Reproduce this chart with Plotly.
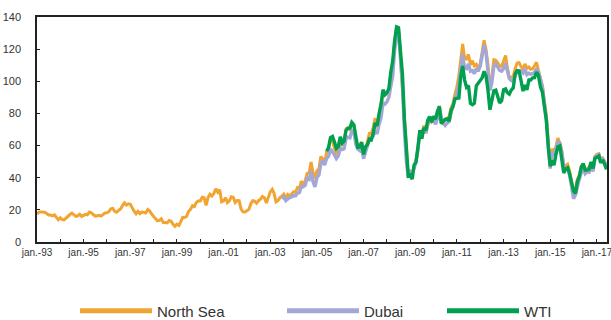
import pandas as pd
import plotly.graph_objects as go

# Monthly crude oil prices, USD per barrel
north_sea_start = "1993-01-01"
north_sea = [
    17.4, 18.6, 18.7, 18.6, 18.5, 17.7, 16.8, 16.8, 16.3, 16.9, 15.4, 13.9,   # 1993
    15.1, 14.0, 13.8, 15.0, 16.4, 17.1, 18.0, 16.9, 16.0, 16.3, 17.2, 15.9,   # 1994
    16.6, 17.2, 16.9, 18.6, 18.2, 17.4, 16.1, 16.3, 16.6, 16.1, 17.1, 18.0,   # 1995
    18.1, 18.9, 20.6, 20.9, 19.1, 18.5, 19.6, 20.5, 22.6, 24.3, 23.0, 23.8,   # 1996
    23.5, 20.8, 19.2, 17.6, 19.1, 17.6, 18.6, 18.5, 18.1, 20.2, 19.2, 17.4,   # 1997
    15.5, 14.4, 13.2, 13.4, 14.4, 12.1, 12.1, 11.9, 13.4, 12.9, 11.0, 9.8,    # 1998
    11.1, 10.3, 12.5, 15.3, 15.2, 15.9, 19.0, 20.3, 22.6, 22.1, 24.6, 25.5,   # 1999
    25.5, 27.8, 27.5, 22.8, 27.6, 29.8, 28.6, 30.2, 33.1, 30.9, 32.5, 25.0,   # 2000
    25.6, 27.5, 24.5, 25.6, 28.1, 27.8, 24.6, 25.8, 25.7, 20.5, 18.8, 18.7,   # 2001
    19.4, 20.3, 23.7, 25.7, 25.4, 24.1, 25.7, 26.6, 28.3, 27.5, 24.3, 28.0,   # 2002
    31.2, 32.8, 30.3, 25.0, 25.8, 27.6, 28.4, 29.8, 27.1, 29.6, 28.8, 29.8,   # 2003
    31.2, 30.9, 33.8, 33.4, 37.9, 35.2, 38.2, 42.7, 43.2, 49.8, 43.1, 39.6,   # 2004
    44.5, 45.5, 53.1, 51.9, 49.0, 56.0, 57.6, 64.1, 62.9, 58.5, 55.5, 56.8,   # 2005
    62.9, 60.0, 62.3, 70.4, 70.9, 69.8, 74.4, 73.0, 63.8, 59.0, 59.5, 62.3,   # 2006
    54.3, 57.8, 62.1, 67.5, 67.5, 71.3, 77.2, 70.8, 77.1, 82.8, 92.5, 91.5,   # 2007
    92.0, 94.8, 103.3, 110.2, 123.9, 133.1, 133.0, 113.2, 97.2, 71.6, 52.5, 40.0,  # 2008
    43.9, 43.1, 46.8, 50.9, 57.9, 68.6, 64.9, 72.5, 67.7, 73.2, 77.0, 74.7,   # 2009
    76.2, 73.8, 78.8, 84.8, 75.9, 74.8, 75.6, 77.1, 78.2, 83.5, 86.1, 92.0,   # 2010
    96.5, 103.7, 114.6, 123.3, 114.5, 113.9, 116.7, 110.2, 112.8, 109.6, 110.5, 107.9,  # 2011
    110.7, 119.3, 125.5, 119.8, 110.3, 95.2, 102.6, 113.4, 113.0, 111.5, 109.5, 109.2,  # 2012
    112.3, 116.1, 108.5, 102.3, 102.6, 102.9, 107.9, 111.3, 111.6, 109.1, 107.8, 110.8,  # 2013
    108.1, 108.9, 107.5, 107.8, 109.7, 111.8, 106.8, 101.6, 97.1, 87.4, 79.4, 62.3,  # 2014
    47.8, 58.1, 55.9, 59.5, 64.6, 61.7, 56.5, 46.5, 47.6, 48.4, 44.3, 38.0,   # 2015
    30.8, 33.2, 39.1, 41.6, 46.7, 48.3, 44.9, 45.8, 46.6, 49.5, 44.7, 53.3,   # 2016
    54.6, 55.0, 51.6, 52.3, 50.3, 46.4,                                       # 2017
]

dubai_start = "2003-07-01"
dubai = [
    27.1, 28.1, 25.8, 27.1, 27.7, 28.0,                                       # 2003
    28.8, 28.8, 30.5, 30.8, 34.6, 34.4, 35.3, 39.6, 38.9, 44.2, 37.5, 34.3,   # 2004
    40.2, 41.7, 48.4, 50.7, 47.9, 52.0, 53.3, 57.9, 56.4, 54.3, 51.9, 53.6,   # 2005
    58.5, 57.5, 58.0, 64.4, 65.2, 64.8, 69.1, 68.9, 60.9, 57.9, 56.9, 58.8,   # 2006
    51.9, 55.6, 59.0, 63.9, 64.6, 66.0, 69.5, 67.2, 73.3, 77.2, 86.5, 85.8,   # 2007
    87.2, 90.0, 96.7, 103.5, 119.3, 127.8, 131.2, 113.2, 96.7, 69.4, 49.8, 40.5,  # 2008
    43.9, 43.1, 45.6, 50.1, 57.6, 69.4, 65.2, 71.4, 67.7, 73.2, 77.3, 75.5,   # 2009
    76.5, 73.2, 76.7, 84.2, 77.6, 73.8, 72.5, 73.9, 74.9, 80.4, 84.2, 89.1,   # 2010
    92.5, 97.9, 108.4, 117.0, 108.2, 107.8, 110.8, 106.2, 106.7, 104.8, 107.9, 106.3,  # 2011
    109.4, 116.2, 122.5, 117.4, 107.5, 94.4, 99.1, 109.1, 110.8, 108.5, 106.8, 106.3,  # 2012
    107.9, 111.1, 105.4, 101.7, 100.4, 100.3, 103.5, 106.1, 106.6, 106.6, 105.2, 107.7,  # 2013
    104.1, 105.0, 104.4, 104.7, 105.6, 108.0, 105.6, 101.8, 96.6, 86.4, 76.3, 60.4,  # 2014
    45.7, 55.1, 54.7, 57.6, 62.5, 61.3, 56.1, 47.5, 45.3, 45.9, 41.6, 34.6,   # 2015
    26.9, 29.4, 35.2, 39.1, 43.3, 45.8, 42.5, 43.7, 43.4, 47.8, 43.9, 52.6,   # 2016
    53.6, 54.4, 51.0, 51.8, 50.0, 46.1,                                       # 2017
]

wti_start = "2005-06-01"
wti = [
    56.5, 58.7, 64.9, 65.6, 62.4, 58.3, 59.4,                                 # 2005
    65.5, 61.6, 62.7, 69.4, 70.8, 70.9, 74.4, 73.0, 63.8, 58.9, 59.1, 62.0,   # 2006
    54.5, 59.3, 60.4, 64.0, 63.5, 67.5, 74.1, 72.4, 79.9, 85.8, 94.8, 91.7,   # 2007
    93.0, 95.4, 105.5, 112.6, 125.4, 133.9, 133.4, 116.7, 104.1, 76.6, 57.3, 41.1,  # 2008
    41.7, 39.1, 47.9, 49.7, 59.0, 69.6, 64.2, 71.1, 69.4, 75.7, 78.0, 74.5,   # 2009
    78.3, 76.4, 81.2, 84.3, 73.7, 75.3, 76.3, 76.6, 75.2, 81.9, 84.3, 89.2,   # 2010
    89.4, 89.6, 102.9, 109.5, 100.9, 96.3, 97.3, 86.3, 85.5, 86.3, 97.2, 98.6,  # 2011
    100.3, 102.2, 106.2, 103.3, 94.7, 82.3, 87.9, 94.1, 94.5, 89.5, 86.5, 87.9,  # 2012
    94.8, 95.3, 92.9, 92.0, 94.5, 95.8, 104.6, 106.6, 106.3, 100.5, 93.9, 97.6,  # 2013
    94.6, 100.8, 100.8, 102.1, 102.2, 105.8, 103.6, 96.5, 93.2, 84.4, 75.8, 59.3,  # 2014
    47.2, 50.6, 47.8, 54.5, 59.3, 59.8, 50.9, 42.9, 45.5, 46.2, 42.4, 37.2,   # 2015
    31.7, 30.3, 37.5, 40.8, 46.7, 48.8, 44.7, 44.7, 45.2, 49.8, 45.7, 52.0,   # 2016
    52.5, 53.5, 49.3, 51.1, 48.5, 45.2,                                       # 2017
]

series_names = ["North Sea", "Dubai", "WTI"]
series_colors = ["#F2A431", "#A2A7D6", "#00A04F"]
series_starts = [north_sea_start, dubai_start, wti_start]
series_values = [north_sea, dubai, wti]
line_widths = [3, 3.4, 3.4]

FONT = "Liberation Sans, Arial, sans-serif"

fig = go.Figure()
legend_ids = ["legend", "legend2", "legend3"]
for name, start, vals, color, width, lg in zip(series_names, series_starts, series_values,
                                               series_colors, line_widths, legend_ids):
    dates = pd.date_range(start, periods=len(vals), freq="MS")
    fig.add_trace(go.Scatter(
        x=dates, y=vals, name=name, mode="lines", showlegend=False,
        line=dict(color=color, width=width), hoverinfo="skip",
    ))
    # legend key drawn with a heavier stroke than the data line
    fig.add_trace(go.Scatter(
        x=[None], y=[None], name=name, mode="lines", legend=lg, showlegend=True,
        line=dict(color=color, width=5), hoverinfo="skip",
    ))

legend_style = dict(
    orientation="h", y=-0.307, yanchor="middle", xanchor="left",
    font=dict(family=FONT, size=15, color="#333333"),
    itemwidth=72, bgcolor="rgba(0,0,0,0)",
)

tick_font = dict(family=FONT, size=10, color="#333333")

fig.update_layout(
    width=611, height=320,
    margin=dict(l=37, r=4, t=17, b=78, autoexpand=False),
    paper_bgcolor="white", plot_bgcolor="white",
    legend=dict(x=0.0667, **legend_style),
    legend2=dict(x=0.4298, **legend_style),
    legend3=dict(x=0.7105, **legend_style),
    xaxis=dict(
        type="date",
        range=["1993-01-01", "2017-06-08"],
        tick0="1993-01-01", dtick="M24", tickformat="jan.-%y",
        ticks="inside", ticklen=3, tickwidth=1, tickcolor="#222222",
        minor=dict(dtick="M12", tick0="1993-01-01", ticks="inside", ticklen=3,
                   tickwidth=1, tickcolor="#222222", showgrid=False),
        showgrid=False, zeroline=False,
        showline=True, linecolor="#222222", linewidth=1.5, mirror=True,
        tickfont=tick_font, ticklabeloverflow="allow", automargin=False,
    ),
    yaxis=dict(
        range=[0, 140], dtick=20, tick0=0,
        ticks="inside", ticklen=3, tickwidth=1, tickcolor="#222222",
        showgrid=False, zeroline=False,
        showline=True, linecolor="#222222", linewidth=1.5, mirror=True,
        tickfont=dict(family=FONT, size=11, color="#333333"), ticklabelstandoff=12,
        automargin=False,
    ),
)

fig.write_html("out.html")
